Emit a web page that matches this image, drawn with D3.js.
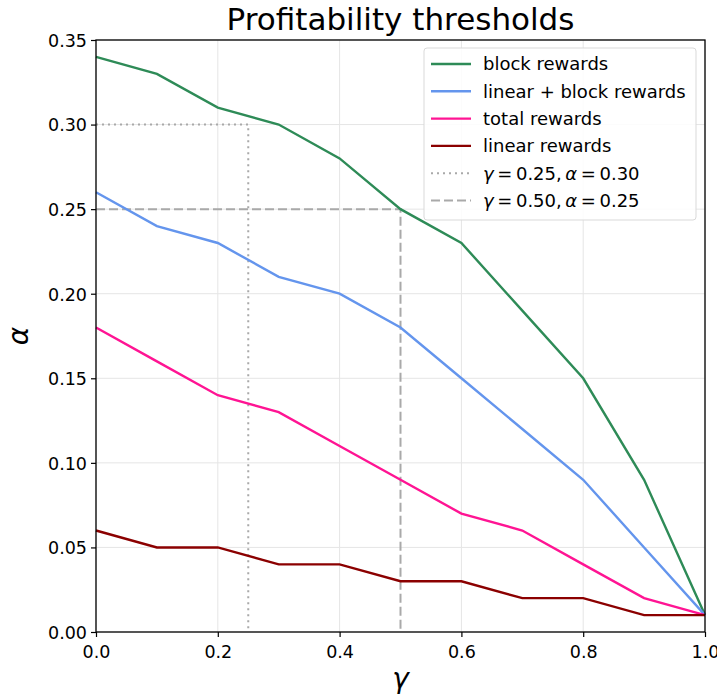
<!DOCTYPE html>
<html>
<head>
<meta charset="utf-8">
<script src="https://cdn.jsdelivr.net/npm/d3@7"></script>
<style>
  body { margin: 0; background: #fff; }
  text { font-family: "DejaVu Sans", sans-serif; }
</style>
</head>
<body>
<svg id="chart"></svg>
<script>
const gammas = [0, 0.1, 0.2, 0.3, 0.4, 0.5, 0.6, 0.7, 0.8, 0.9, 1.0];
const blockRewards = [0.34, 0.33, 0.31, 0.30, 0.28, 0.25, 0.23, 0.19, 0.15, 0.09, 0.01];
const linearBlockRewards = [0.26, 0.24, 0.23, 0.21, 0.20, 0.18, 0.15, 0.12, 0.09, 0.05, 0.01];
const totalRewards = [0.18, 0.16, 0.14, 0.13, 0.11, 0.09, 0.07, 0.06, 0.04, 0.02, 0.01];
const linearRewards = [0.06, 0.05, 0.05, 0.04, 0.04, 0.03, 0.03, 0.02, 0.02, 0.01, 0.01];
const xTicks = [0, 0.2, 0.4, 0.6, 0.8, 1.0];
const yTicks = [0, 0.05, 0.10, 0.15, 0.20, 0.25, 0.30, 0.35];

const series = [
  { name: 'block rewards', values: blockRewards, color: '#2e8b57' },
  { name: 'linear + block rewards', values: linearBlockRewards, color: '#6495ed' },
  { name: 'total rewards', values: totalRewards, color: '#ff1493' },
  { name: 'linear rewards', values: linearRewards, color: '#8b0000' }
];
const refs = [
  { g: 0.25, a: 0.30, dash: '2,4', label: ['0.25', '0.30'] },
  { g: 0.50, a: 0.25, dash: '9,4', label: ['0.50', '0.25'] }
];

const width = 717, height = 698;
const margin = { top: 40, right: 12, bottom: 66, left: 96 };
const w = width - margin.left - margin.right;
const h = height - margin.top - margin.bottom;

const svg = d3.select('#chart').attr('width', width).attr('height', height);
const g = svg.append('g').attr('transform', `translate(${margin.left},${margin.top})`);

const x = d3.scaleLinear().domain([0, 1]).range([0, w]);
const y = d3.scaleLinear().domain([0, 0.35]).range([h, 0]);

// grid
g.append('g').selectAll('line').data(xTicks).enter().append('line')
  .attr('x1', d => x(d)).attr('x2', d => x(d)).attr('y1', 0).attr('y2', h)
  .attr('stroke', '#e5e5e5').attr('stroke-width', 1);
g.append('g').selectAll('line').data(yTicks).enter().append('line')
  .attr('y1', d => y(d)).attr('y2', d => y(d)).attr('x1', 0).attr('x2', w)
  .attr('stroke', '#e5e5e5').attr('stroke-width', 1);

// reference lines
refs.forEach(r => {
  g.append('path')
    .attr('d', d3.line()([[x(0), y(r.a)], [x(r.g), y(r.a)], [x(r.g), y(0)]]))
    .attr('fill', 'none').attr('stroke', '#a9a9a9').attr('stroke-width', 2)
    .attr('stroke-dasharray', r.dash);
});

// series
const line = d3.line().x((d, i) => x(gammas[i])).y(d => y(d));
series.forEach(s => {
  g.append('path').datum(s.values)
    .attr('d', line)
    .attr('fill', 'none').attr('stroke', s.color).attr('stroke-width', 2.4);
});

// axes
const xAxis = g.append('g').attr('transform', `translate(0,${h})`)
  .call(d3.axisBottom(x).tickValues(xTicks).tickFormat(d3.format('.1f')).tickSizeOuter(0).tickSize(5));
const yAxis = g.append('g')
  .call(d3.axisLeft(y).tickValues(yTicks).tickFormat(d3.format('.2f')).tickSizeOuter(0).tickSize(5));
[xAxis, yAxis].forEach(a => {
  a.select('.domain').remove();
  a.selectAll('line').attr('stroke', '#000').attr('stroke-width', 1.2);
  a.selectAll('text').attr('fill', '#000').style('font-size', '17.5px');
});
xAxis.selectAll('text').attr('y', 9).attr('dy', '0.95em');
yAxis.selectAll('text').attr('x', -9).attr('dy', '0.36em');

// frame
g.append('rect').attr('x', 0).attr('y', 0).attr('width', w).attr('height', h)
  .attr('fill', 'none').attr('stroke', '#000').attr('stroke-width', 1.3);

// title and labels
svg.append('text').attr('x', margin.left + w / 2).attr('y', 30)
  .attr('text-anchor', 'middle').style('font-size', '31px').text('Profitability thresholds');
svg.append('text').attr('x', margin.left + w / 2).attr('y', 688)
  .attr('text-anchor', 'middle').style('font-size', '28px').style('font-style', 'italic').text('γ');
svg.append('text').attr('transform', `translate(28,${margin.top + h / 2}) rotate(-90)`)
  .attr('text-anchor', 'middle').style('font-size', '28px').style('font-style', 'italic').text('α');

// legend
const lg = svg.append('g').attr('transform', 'translate(424,48)');
lg.append('rect').attr('width', 272).attr('height', 172).attr('rx', 3)
  .attr('fill', '#fff').attr('fill-opacity', 0.85).attr('stroke', '#d9d9d9');
const rowY = i => 16 + i * 27.3;
series.forEach((s, i) => {
  lg.append('line').attr('x1', 7).attr('x2', 47).attr('y1', rowY(i)).attr('y2', rowY(i))
    .attr('stroke', s.color).attr('stroke-width', 2.4);
  lg.append('text').attr('x', 59).attr('y', rowY(i)).attr('dy', '0.35em')
    .style('font-size', '18px').text(s.name);
});
refs.forEach((r, j) => {
  const i = series.length + j;
  lg.append('line').attr('x1', 7).attr('x2', 47).attr('y1', rowY(i)).attr('y2', rowY(i))
    .attr('stroke', '#a9a9a9').attr('stroke-width', 2).attr('stroke-dasharray', r.dash);
  const t = lg.append('text').attr('x', 59).attr('y', rowY(i)).attr('dy', '0.35em').style('font-size', '18px');
  t.append('tspan').style('font-style', 'italic').text('γ');
  t.append('tspan').text('\u2009=\u2009' + r.label[0] + ',\u2009');
  t.append('tspan').style('font-style', 'italic').text('α');
  t.append('tspan').text('\u2009=\u2009' + r.label[1]);
});
</script>
</body>
</html>
